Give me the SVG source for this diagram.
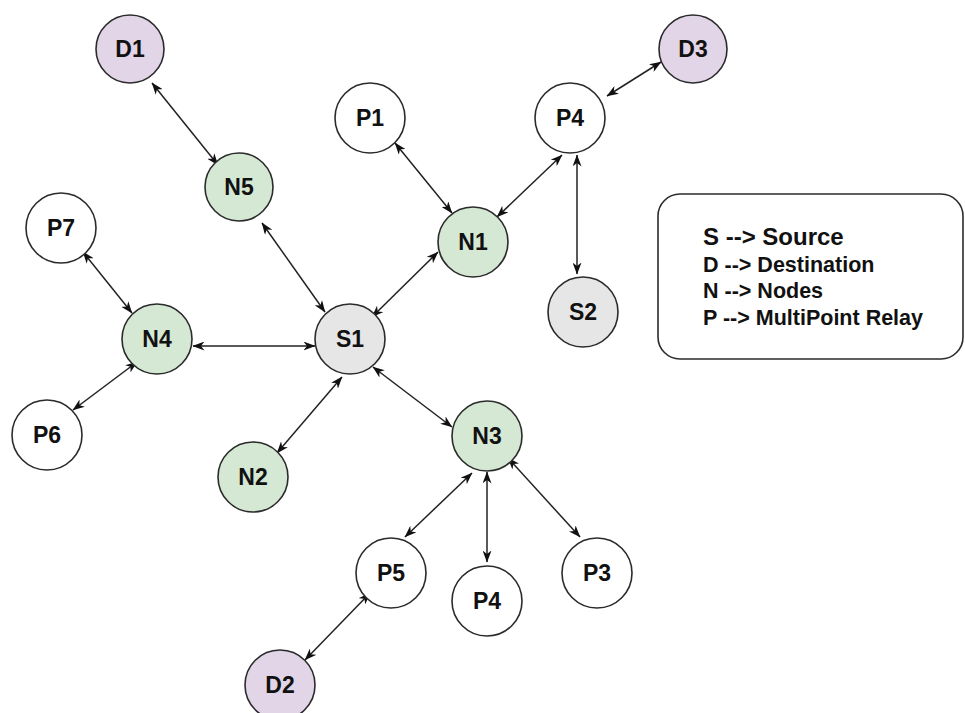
<svg xmlns="http://www.w3.org/2000/svg" width="965" height="713" viewBox="0 0 965 713">
<style>
.n{stroke:#2b2b2b;stroke-width:1.6}
.p{fill:#ffffff}
.d{fill:#e1d5e7}
.g{fill:#d5e8d4}
.s{fill:#e6e6e6}
.t{font-family:"Liberation Sans",Arial,sans-serif;font-weight:bold;font-size:23px;fill:#111;text-anchor:middle}
.e{stroke:#222;stroke-width:1.5;fill:none;marker-start:url(#ah);marker-end:url(#ah)}
.lg{font-family:"Liberation Sans",Arial,sans-serif;font-weight:bold;font-size:21.5px;fill:#111}
</style>
<defs>
<marker id="ah" viewBox="0 0 12 9" refX="11.5" refY="4.5" markerWidth="12" markerHeight="9" markerUnits="userSpaceOnUse" orient="auto-start-reverse">
<path d="M0,0 L12,4.5 L0,9 L3.5,4.5 z" fill="#111"/>
</marker>
</defs>
<rect width="965" height="713" fill="#ffffff"/>
<g id="connectors">
<line class="e" x1="152" y1="83" x2="218" y2="165"/>
<line class="e" x1="262" y1="223" x2="325" y2="312"/>
<line class="e" x1="395" y1="143" x2="452" y2="213"/>
<line class="e" x1="497" y1="217" x2="562" y2="155"/>
<line class="e" x1="607" y1="96" x2="661" y2="62"/>
<line class="e" x1="577" y1="155" x2="577" y2="274"/>
<line class="e" x1="438" y1="252" x2="372" y2="317"/>
<line class="e" x1="83" y1="252" x2="132" y2="313"/>
<line class="e" x1="193" y1="346" x2="315" y2="346"/>
<line class="e" x1="137" y1="362" x2="73" y2="410"/>
<line class="e" x1="342" y1="377" x2="277" y2="453"/>
<line class="e" x1="373" y1="367" x2="452" y2="427"/>
<line class="e" x1="472" y1="473" x2="405" y2="537"/>
<line class="e" x1="487" y1="472" x2="487" y2="562"/>
<line class="e" x1="508" y1="458" x2="580" y2="537"/>
<line class="e" x1="370" y1="593" x2="305" y2="660"/>
</g>
<g id="D1"><circle class="n d" cx="130" cy="49" r="34"/><text class="t" x="130" y="57">D1</text></g>
<g id="D3"><circle class="n d" cx="693" cy="49" r="34"/><text class="t" x="693" y="57">D3</text></g>
<g id="N5"><circle class="n g" cx="239" cy="187" r="34"/><text class="t" x="239" y="195">N5</text></g>
<g id="P1"><circle class="n p" cx="370" cy="118" r="35"/><text class="t" x="370" y="126">P1</text></g>
<g id="P4a"><circle class="n p" cx="570" cy="118" r="35"/><text class="t" x="570" y="126">P4</text></g>
<g id="N1"><circle class="n g" cx="473" cy="242" r="35"/><text class="t" x="473" y="250">N1</text></g>
<g id="S2"><circle class="n s" cx="583" cy="312" r="35"/><text class="t" x="583" y="320">S2</text></g>
<g id="P7"><circle class="n p" cx="61" cy="228" r="35"/><text class="t" x="61" y="236">P7</text></g>
<g id="N4"><circle class="n g" cx="157" cy="339" r="35"/><text class="t" x="157" y="347">N4</text></g>
<g id="S1"><circle class="n s" cx="350" cy="339" r="35"/><text class="t" x="350" y="347">S1</text></g>
<g id="P6"><circle class="n p" cx="47" cy="435" r="35"/><text class="t" x="47" y="443">P6</text></g>
<g id="N2"><circle class="n g" cx="253" cy="477" r="35"/><text class="t" x="253" y="485">N2</text></g>
<g id="N3"><circle class="n g" cx="487" cy="436" r="35"/><text class="t" x="487" y="444">N3</text></g>
<g id="P5"><circle class="n p" cx="391" cy="573" r="35"/><text class="t" x="391" y="581">P5</text></g>
<g id="P4b"><circle class="n p" cx="487" cy="601" r="35"/><text class="t" x="487" y="609">P4</text></g>
<g id="P3"><circle class="n p" cx="597" cy="573" r="35"/><text class="t" x="597" y="581">P3</text></g>
<g id="D2"><circle class="n d" cx="280" cy="685" r="35"/><text class="t" x="280" y="693">D2</text></g>
<g id="legend">
<rect x="658" y="194" width="305" height="165" rx="22" ry="22" fill="#ffffff" stroke="#2b2b2b" stroke-width="1.6"/>
<text class="lg" x="703" y="245" style="font-size:24px">S --&gt; Source</text>
<text class="lg" x="703" y="272">D --&gt; Destination</text>
<text class="lg" x="703" y="298">N --&gt; Nodes</text>
<text class="lg" x="703" y="325">P --&gt; MultiPoint Relay</text>
</g>
</svg>
